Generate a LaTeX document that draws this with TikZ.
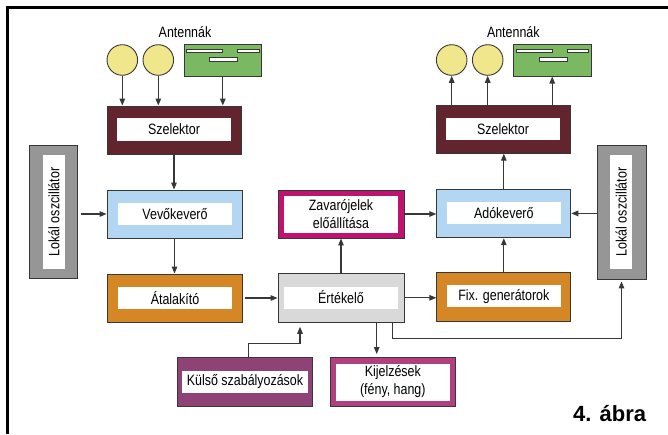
\documentclass[tikz,border=0pt]{standalone}
\usepackage{fontspec}
\setmainfont[FakeStretch=0.83]{Liberation Sans}
\newfontfamily\titlefont{Liberation Sans}
\usetikzlibrary{arrows.meta}
\definecolor{maroon}{RGB}{99,37,45}
\definecolor{lblue}{RGB}{179,214,243}
\definecolor{orng}{RGB}{213,135,38}
\definecolor{gry}{RGB}{150,150,150}
\definecolor{lgry}{RGB}{217,217,217}
\definecolor{magn}{RGB}{192,18,112}
\definecolor{kijc}{RGB}{178,64,128}
\definecolor{kulc}{RGB}{143,66,117}
\definecolor{yel}{RGB}{240,230,140}
\definecolor{grn}{RGB}{122,185,98}
\definecolor{edge}{RGB}{55,55,55}
\begin{document}
\begin{tikzpicture}[x=1pt,y=-1pt,
  outerbox/.style={draw=edge,line width=0.9pt,inner sep=0,rectangle},
  innerbox/.style={fill=white,inner sep=0,rectangle,align=center,font=\fontsize{15}{18}\selectfont},
  lbl/.style={inner sep=0,font=\fontsize{15}{18}\selectfont},
  ant/.style={circle,draw=edge,line width=0.9pt,fill=yel,minimum size=30.6pt,inner sep=0},
  antrect/.style={rectangle,draw=edge,line width=0.9pt,fill=grn,minimum width=77.7pt,minimum height=31.7pt,inner sep=0},
  bar/.style={draw=edge,line width=0.7pt,fill=white},
  arr/.style={draw=edge,line width=1.2pt,-{Triangle[length=7pt,width=5.5pt]}},
  ln/.style={draw=edge,line width=1.2pt}
]
\useasboundingbox (0,0) rectangle (668,434);
\draw[line width=3pt,line join=miter] (668,7) -- (7,7) -- (7,434);

% antennas left
\node[lbl] (antlblL) at (185,32) {Antennák};
\node[ant] (c1) at (122.3,60) {};
\node[ant] (c2) at (158.3,60) {};
\node[antrect] (gL) at (222.8,60.2) {};
\draw[bar] (186.7,49.3) rectangle (222.3,52.7);
\draw[bar] (237.7,49.3) rectangle (259,52.7);
\draw[bar] (209.3,57.3) rectangle (237.7,61);

% antennas right
\node[lbl] (antlblR) at (513.3,32) {Antennák};
\node[ant] (c3) at (451.7,60) {};
\node[ant] (c4) at (487.7,60) {};
\node[antrect] (gR) at (552.2,60.2) {};
\draw[bar] (516,49.3) rectangle (552.3,52.7);
\draw[bar] (567.3,49.3) rectangle (588.3,52.7);
\draw[bar] (539.3,57.3) rectangle (567.3,61);

% left column
\node[outerbox,fill=maroon,minimum width=134pt,minimum height=48pt] (selL) at (174,130) {};
\node[innerbox,minimum width=114pt,minimum height=23pt] (selLt) at (174,129.5) {Szelektor};
\node[outerbox,fill=lblue,minimum width=135pt,minimum height=48pt] (vevo) at (174.5,214) {};
\node[innerbox,minimum width=114pt,minimum height=22pt] (vevot) at (175,213.8) {Vevőkeverő};
\node[outerbox,fill=orng,minimum width=135pt,minimum height=48pt] (atal) at (174.5,298) {};
\node[innerbox,minimum width=114pt,minimum height=22pt] (atalt) at (175,297.8) {Átalakító};
\node[outerbox,fill=gry,minimum width=48.4pt,minimum height=133pt] (lokL) at (53.5,211.7) {};
\node[innerbox,fill=white,minimum width=114pt,minimum height=22pt,rotate=90] (lokLt) at (53.8,212) {Lokál oszcillátor};

% middle column
\node[outerbox,fill=magn,minimum width=126pt,minimum height=48pt] (zav) at (341,214) {};
\node[innerbox,minimum width=114pt,minimum height=37pt] (zavt) at (341,214) {Zavarójelek\\előállítása};
\node[outerbox,fill=lgry,minimum width=126pt,minimum height=49pt] (ert) at (341,297.8) {};
\node[innerbox,minimum width=114pt,minimum height=22pt] (ertt) at (341,297.5) {Értékelő};

% right column
\node[outerbox,fill=maroon,minimum width=134pt,minimum height=48pt] (selR) at (503,129.2) {};
\node[innerbox,minimum width=114pt,minimum height=22pt] (selRt) at (503,128.8) {Szelektor};
\node[outerbox,fill=lblue,minimum width=134pt,minimum height=48.7pt] (ado) at (503.8,213.4) {};
\node[innerbox,minimum width=114pt,minimum height=22pt] (adot) at (503.8,212.8) {Adókeverő};
\node[outerbox,fill=orng,minimum width=134pt,minimum height=49pt] (fix) at (503.8,297.2) {};
\node[innerbox,minimum width=114pt,minimum height=22pt] (fixt) at (503.8,296.2) {Fix. generátorok};
\node[outerbox,fill=gry,minimum width=49pt,minimum height=134pt] (lokR) at (621.5,212) {};
\node[innerbox,minimum width=114pt,minimum height=22pt,rotate=90] (lokRt) at (621.2,212) {Lokál oszcillátor};

% bottom
\node[outerbox,fill=kulc,minimum width=135pt,minimum height=49pt] (kul) at (244.8,382) {};
\node[innerbox,minimum width=126.6pt,minimum height=22pt] (kult) at (245,381.8) {Külső szabályozások};
\node[outerbox,fill=kijc,minimum width=125pt,minimum height=49pt] (kij) at (392.5,382) {};
\node[innerbox,minimum width=114pt,minimum height=37pt] (kijt) at (392.8,382) {Kijelzések\\(fény, hang)};

\node[anchor=base west,inner sep=0,font=\titlefont\bfseries\fontsize{22}{24}\selectfont] (title) at (573,421.7) {4. ábra};

% connectors
\draw[arr] (c1.south) -- (c1.south |- selL.north);
\draw[arr] (c2.south) -- (c2.south |- selL.north);
\draw[arr] (gL.south) -- (gL.south |- selL.north);
\draw[arr] (c3.south |- selR.north) -- (c3.south);
\draw[arr] (c4.south |- selR.north) -- (c4.south);
\draw[arr] (selR.north -| gR.south) -- (gR.south);
\draw[arr] (selL.south) -- (selL.south |- vevo.north);
\draw[arr] (vevo.south) -- (atal.north);
\draw[arr,shorten <=3pt] (lokL.east |- vevo.west) -- (vevo.west);
\draw[arr,shorten <=3pt] (atal.east) -- (atal.east -| ert.west);
\draw[arr] (ert.north) -- (zav.south);
\draw[arr] (ert.east) -- (ert.east -| fix.west);
\draw[arr] (zav.east) -- (zav.east -| ado.west);
\draw[arr] (lokR.west |- ado.east) -- (ado.east);
\draw[arr] (fix.north) -- (ado.south);
\draw[arr] (ado.north) -- (ado.north |- selR.south);
\draw[arr,shorten >=3pt] ([xshift=35.7pt]ert.south) -- ([xshift=35.7pt]ert.south |- kij.north);
\draw[arr,shorten >=2pt] ([xshift=51.7pt]ert.south) -- ++(0,15.7) -| (lokR.south);
\draw[arr,shorten >=4pt] (kul.north -| 248.3,0) -- (248.3,343.3) -| ([xshift=-41pt]ert.south);
\end{tikzpicture}
\end{document}
